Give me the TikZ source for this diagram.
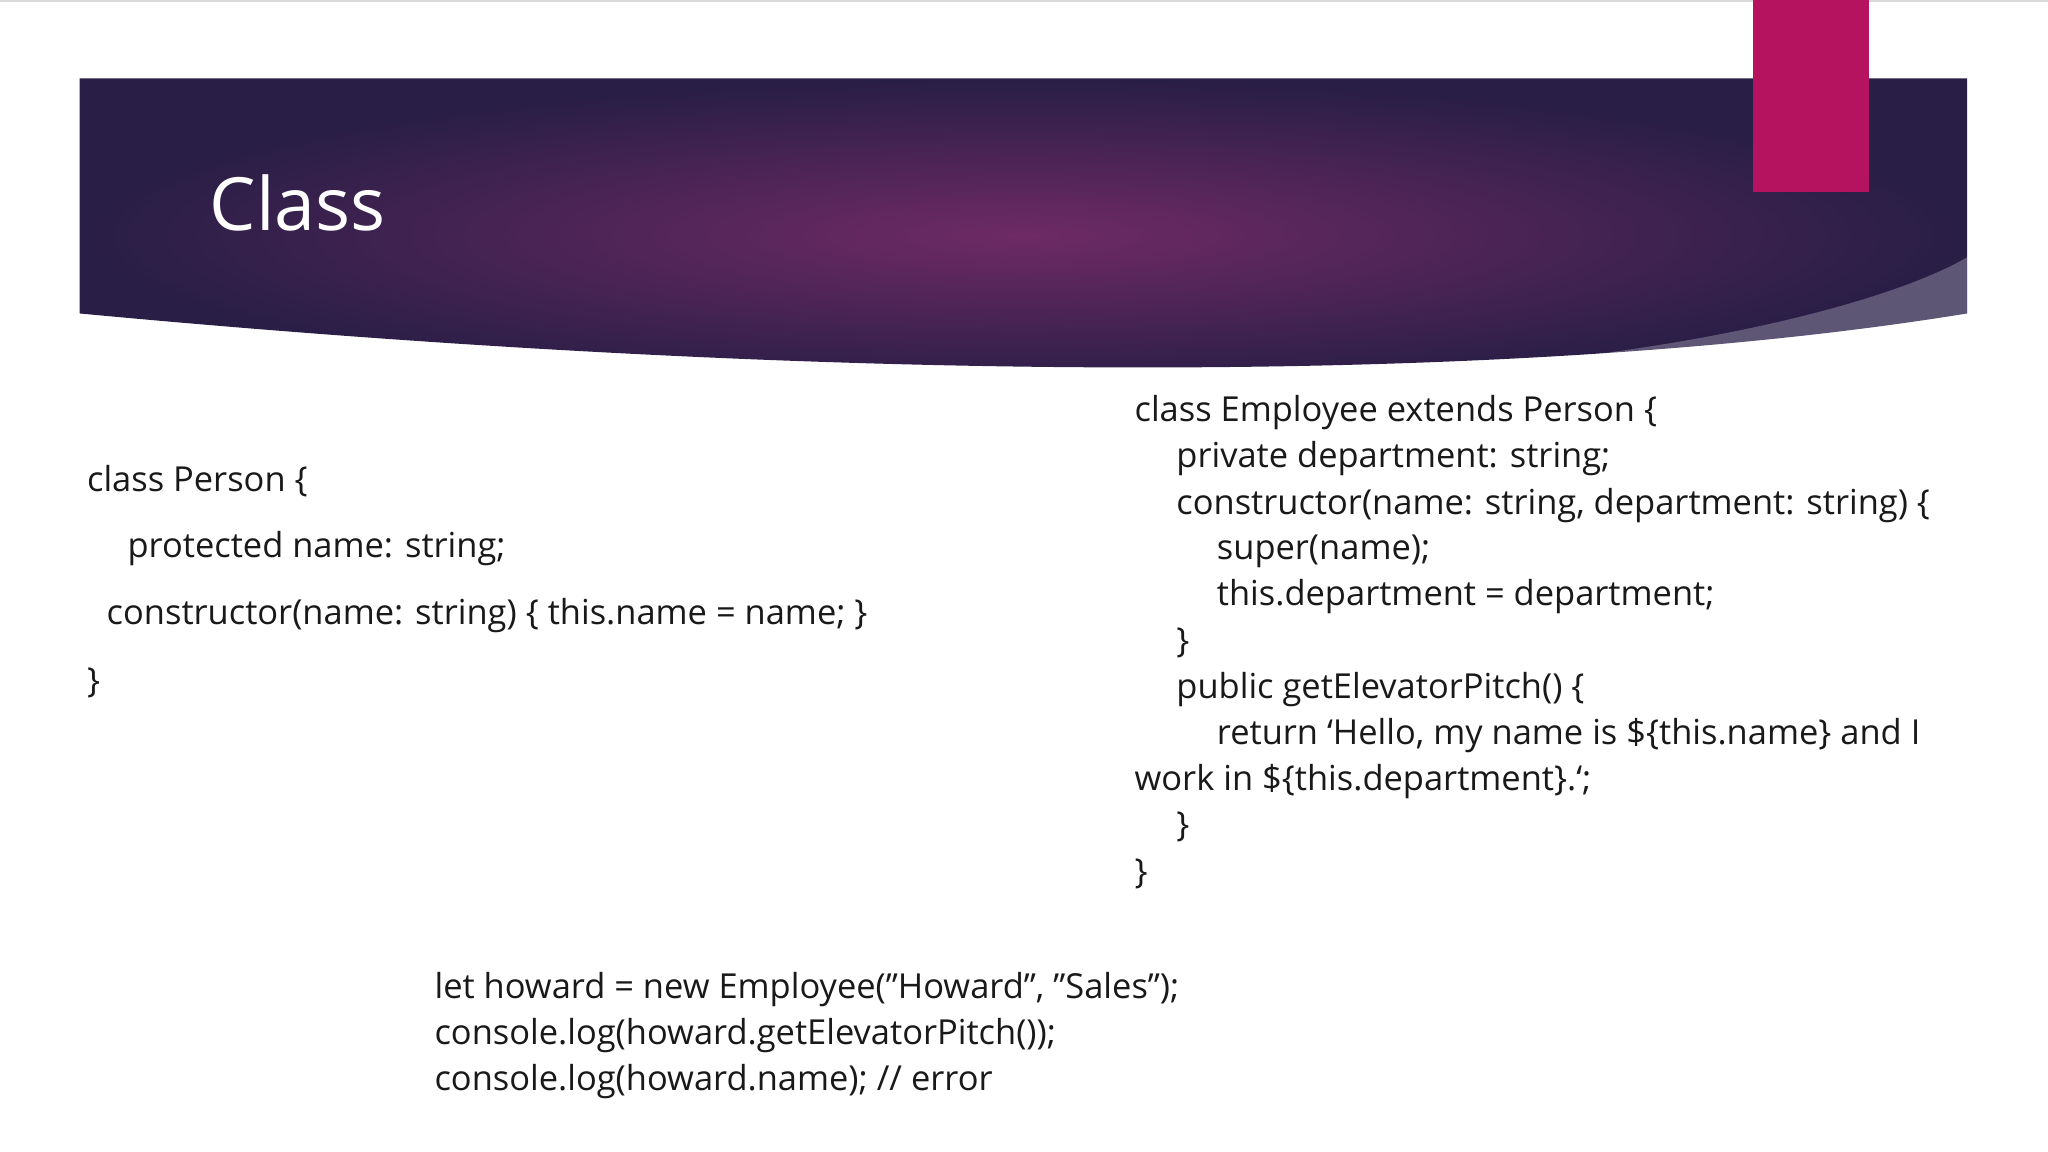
\documentclass[tikz,border=0pt]{standalone}
\usepackage{fontspec}
\setmainfont{Open Sans}
\definecolor{bancenter}{RGB}{110,42,100}
\definecolor{banedge}{RGB}{40,30,70}
\definecolor{pinkbar}{RGB}{181,19,95}
\begin{document}
\begin{tikzpicture}[x=0.01cm,y=-0.01cm,
  code/.style={anchor=west,inner sep=0pt,font=\fontsize{7.5pt}{9pt}\selectfont,text=black!90}]
\useasboundingbox (0,0) rectangle (1568,882);
\fill[white] (0,0) rectangle (1568,882);
\draw[black!15] (0,0.5) -- (1568,0.5);
% banner
\shade[inner color=bancenter, outer color=banedge]
  (61,60) -- (1506,60) -- (1506,240) .. controls (1200,290) and (700,300) .. (61,240) -- cycle;
\fill[white,opacity=0.25] (1100,283) .. controls (1300,270) and (1450,230) .. (1506,197) -- (1506,240) .. controls (1400,262) and (1250,278) .. (1100,283) -- cycle;
\fill[pinkbar] (1342,0) rectangle (1431,147);
\node[anchor=west,inner sep=0pt,text=white,font=\fontsize{16pt}{18pt}\selectfont] (title) at (160,155) {Class};
% left
\node[code] (l1) at (66,368) {class Person \{};
\node[code] (l2) at (97,420) {protected name: string;};
\node[code] (l3) at (81,471) {constructor(name: string) \{ this.name = name; \}};
\node[code] (l4) at (66,523) {\}};
% right
\node[code] (r1) at (868,316) {class Employee extends Person \{};
\node[code] (r2) at (900,351) {private department: string;};
\node[code] (r3) at (900,387) {constructor(name: string, department: string) \{};
\node[code] (r4) at (931,422) {super(name);};
\node[code] (r5) at (931,457) {this.department = department;};
\node[code] (r6) at (900,492) {\}};
\node[code] (r7) at (900,528) {public getElevatorPitch() \{};
\node[code] (r8) at (931,563) {return `Hello, my name is \$\{this.name\} and I};
\node[code] (r9) at (868,598) {work in \$\{this.department\}.`;};
\node[code] (r10) at (900,633) {\}};
\node[code] (r11) at (868,669) {\}};
% bottom
\node[code] (b1) at (332,758) {let howard = new Employee("Howard", "Sales");};
\node[code] (b2) at (332,793) {console.log(howard.getElevatorPitch());};
\node[code] (b3) at (332,828) {console.log(howard.name); // error};
\end{tikzpicture}
\end{document}
